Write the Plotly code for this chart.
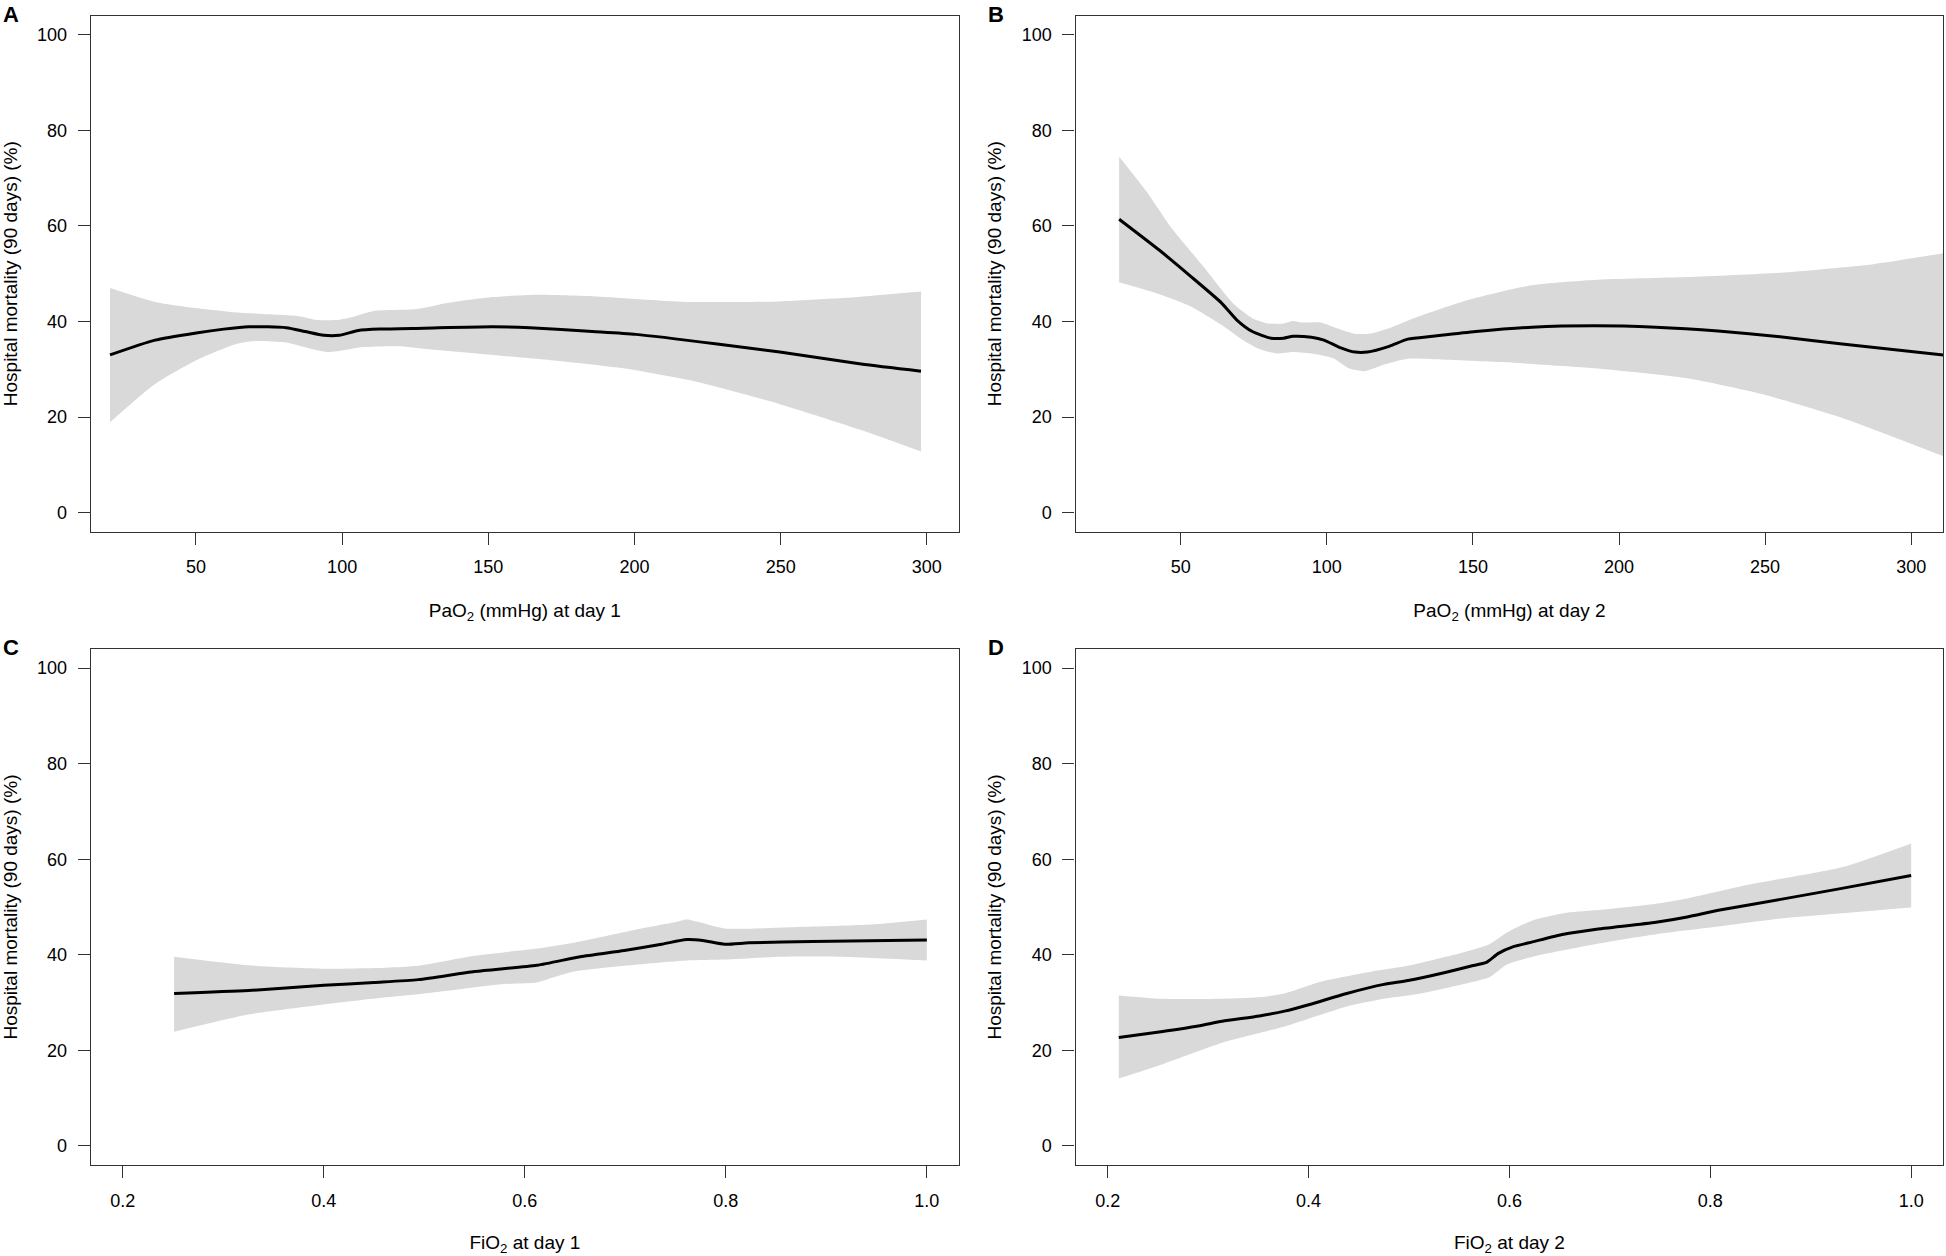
import plotly.graph_objects as go

# ---------------- Panel A: PaO2 day 1 ----------------
a_x = [20.6, 36.0, 50.1, 59.5, 68.1, 80.9, 87.3, 93.7, 99.0, 105.5, 112.9, 127.9, 151.4, 164.2, 185.6, 200.5, 228.3, 249.7, 277.5, 298.0]
a_y = [33.0, 36.1, 37.6, 38.4, 38.9, 38.7, 37.9, 37.1, 37.1, 38.1, 38.4, 38.6, 38.9, 38.7, 37.9, 37.3, 35.3, 33.6, 31.1, 29.6]
a_up_x = [20.6, 36.0, 50.1, 61.6, 78.7, 85.2, 91.6, 98.0, 103.3, 110.8, 125.7, 136.4, 151.4, 166.3, 185.6, 217.6, 249.7, 271.0, 298.0]
a_up_y = [47.0, 44.1, 42.8, 42.0, 41.4, 41.1, 40.3, 40.3, 40.9, 42.2, 42.6, 43.9, 45.1, 45.6, 45.3, 44.1, 44.2, 44.9, 46.3]
a_lo_x = [20.6, 36.0, 50.1, 63.8, 70.2, 80.9, 87.3, 94.8, 99.0, 106.5, 119.3, 127.9, 153.5, 174.9, 196.3, 221.9, 249.7, 277.5, 298.0]
a_lo_y = [18.9, 26.9, 31.9, 35.3, 35.9, 35.6, 34.6, 33.6, 33.8, 34.6, 34.8, 34.3, 32.9, 31.7, 30.2, 27.3, 22.7, 17.3, 12.8]

# ---------------- Panel B: PaO2 day 2 ----------------
b_x = [28.9, 42.7, 53.3, 63.9, 69.2, 74.5, 80.9, 85.2, 88.4, 94.7, 99.0, 104.3, 109.6, 113.9, 121.3, 127.7, 136.2, 151.0, 170.2, 191.4, 212.6, 233.9, 255.1, 276.4, 311.0]
b_y = [61.4, 54.9, 49.5, 43.9, 40.3, 37.9, 36.5, 36.5, 36.9, 36.7, 36.1, 34.6, 33.6, 33.6, 34.8, 36.3, 36.9, 37.9, 38.8, 39.1, 38.8, 38.0, 36.8, 35.3, 33.0]
b_up_x = [28.9, 38.4, 46.9, 57.6, 68.2, 74.5, 79.8, 85.2, 88.4, 91.5, 97.9, 104.3, 109.6, 115.0, 121.3, 129.8, 148.9, 170.2, 191.4, 223.3, 255.1, 287.0, 311.0]
b_up_y = [74.5, 67.1, 59.5, 51.6, 43.6, 40.7, 39.6, 39.6, 40.1, 39.8, 39.8, 38.4, 37.4, 37.5, 38.6, 40.7, 44.6, 47.6, 48.7, 49.3, 50.2, 52.0, 54.3]
b_lo_x = [28.9, 42.7, 53.3, 63.9, 70.3, 76.6, 83.0, 88.4, 95.8, 102.2, 107.5, 112.8, 119.2, 127.7, 136.2, 159.5, 191.4, 223.3, 248.8, 276.4, 311.0]
b_lo_y = [48.2, 45.7, 43.2, 39.3, 36.5, 34.3, 33.3, 33.6, 33.2, 32.3, 30.2, 29.6, 30.9, 32.2, 32.1, 31.5, 30.2, 28.1, 24.8, 19.8, 11.8]

# ---------------- Panel C: FiO2 day 1 ----------------
c_x = [0.251, 0.325, 0.400, 0.450, 0.494, 0.550, 0.612, 0.655, 0.699, 0.736, 0.761, 0.777, 0.799, 0.823, 0.886, 1.0]
c_y = [31.9, 32.5, 33.6, 34.2, 34.8, 36.5, 37.8, 39.6, 40.9, 42.2, 43.2, 43.0, 42.2, 42.5, 42.8, 43.1]
c_up_x = [0.251, 0.325, 0.400, 0.462, 0.494, 0.550, 0.612, 0.655, 0.711, 0.749, 0.761, 0.774, 0.799, 0.886, 0.948, 1.0]
c_up_y = [39.6, 37.8, 37.1, 37.3, 37.7, 39.8, 41.3, 42.8, 45.3, 46.8, 47.4, 46.8, 45.5, 45.9, 46.4, 47.4]
c_lo_x = [0.251, 0.325, 0.400, 0.462, 0.500, 0.574, 0.612, 0.624, 0.649, 0.699, 0.761, 0.799, 0.855, 0.917, 1.0]
c_lo_y = [23.9, 27.5, 29.6, 31.1, 31.9, 33.8, 34.2, 35.0, 36.5, 37.7, 38.8, 39.0, 39.6, 39.6, 38.8]

# ---------------- Panel D: FiO2 day 2 ----------------
d_x = [0.211, 0.253, 0.290, 0.314, 0.351, 0.376, 0.401, 0.438, 0.475, 0.499, 0.536, 0.561, 0.577, 0.589, 0.604, 0.623, 0.654, 0.685, 0.746, 0.777, 0.808, 0.870, 0.931, 1.0]
d_y = [22.7, 23.9, 25.1, 26.1, 27.2, 28.2, 29.6, 31.9, 33.8, 34.6, 36.3, 37.6, 38.4, 40.3, 41.7, 42.7, 44.3, 45.3, 46.8, 47.9, 49.3, 51.6, 53.9, 56.6]
d_up_x = [0.211, 0.253, 0.314, 0.351, 0.376, 0.413, 0.469, 0.499, 0.561, 0.580, 0.598, 0.623, 0.654, 0.685, 0.746, 0.777, 0.839, 0.931, 1.0]
d_up_y = [31.5, 30.8, 30.8, 31.1, 31.9, 34.4, 36.7, 37.7, 40.9, 42.2, 44.7, 47.2, 48.7, 49.3, 50.7, 51.8, 54.7, 58.3, 63.3]
d_lo_x = [0.211, 0.253, 0.314, 0.376, 0.438, 0.475, 0.512, 0.561, 0.580, 0.598, 0.623, 0.685, 0.746, 0.808, 0.870, 0.931, 1.0]
d_lo_y = [14.1, 17.0, 21.6, 25.0, 29.2, 30.8, 31.9, 34.2, 35.3, 38.0, 39.6, 42.2, 44.3, 45.9, 47.6, 48.7, 49.9]

pao2_ticks = [50, 100, 150, 200, 250, 300]
fio2_ticks = [0.2, 0.4, 0.6, 0.8, 1.0]
fio2_labels = ["0.2", "0.4", "0.6", "0.8", "1.0"]
y_ticks = [0, 20, 40, 60, 80, 100]

panel_letters = ["A", "B", "C", "D"]
x_titles = ["PaO<sub>2</sub> (mmHg) at day 1", "PaO<sub>2</sub> (mmHg) at day 2",
            "FiO<sub>2</sub> at day 1", "FiO<sub>2</sub> at day 2"]
y_title = "Hospital mortality (90 days) (%)"

W, H = 1946, 1256
FONT = "Liberation Sans, Arial, Helvetica, sans-serif"
BAND = "#D9D9D9"
AX = "#333333"

panels = [
    (a_x, a_y, a_up_x, a_up_y, a_lo_x, a_lo_y),
    (b_x, b_y, b_up_x, b_up_y, b_lo_x, b_lo_y),
    (c_x, c_y, c_up_x, c_up_y, c_lo_x, c_lo_y),
    (d_x, d_y, d_up_x, d_up_y, d_lo_x, d_lo_y),
]

# pixel boxes of the plotting regions (left, right, top, bottom)
boxes = [
    (90.7, 959.0, 15.7, 531.7),
    (1075.6, 1943.3, 15.7, 531.7),
    (90.7, 959.0, 649.0, 1165.0),
    (1075.6, 1943.3, 649.0, 1165.0),
]
x_ranges = [[14.0, 311.0], [14.0, 311.0], [0.168, 1.032], [0.168, 1.032]]

fig = go.Figure()
annotations = []
layout = {}
for i, (px, py, ux, uy, lx, ly) in enumerate(panels):
    n = "" if i == 0 else str(i + 1)
    xa, ya = "x" + n, "y" + n
    # confidence band: lower edge then upper edge filled to it
    fig.add_trace(go.Scatter(
        x=lx, y=ly, mode="lines", line=dict(width=0, color=BAND, shape="spline", smoothing=0.6),
        hoverinfo="skip", showlegend=False, xaxis=xa, yaxis=ya))
    fig.add_trace(go.Scatter(
        x=ux, y=uy, mode="lines", fill="tonexty", fillcolor=BAND,
        line=dict(width=0, color=BAND, shape="spline", smoothing=0.6),
        hoverinfo="skip", showlegend=False, xaxis=xa, yaxis=ya))
    fig.add_trace(go.Scatter(
        x=px, y=py, mode="lines", line=dict(color="black", width=3, shape="spline", smoothing=0.6),
        showlegend=False, xaxis=xa, yaxis=ya))
    l, r, t, b = boxes[i]
    common = dict(showline=True, linecolor=AX, linewidth=1.3, mirror=True, ticks="outside",
                  ticklen=12, tickwidth=1.3, tickcolor=AX, showgrid=False, zeroline=False,
                  automargin=False, tickfont=dict(family=FONT, size=18, color="black"))
    if i < 2:
        xt = dict(tickvals=pao2_ticks)
    else:
        xt = dict(tickvals=fio2_ticks, ticktext=fio2_labels)
    layout["xaxis" + n] = dict(domain=[l / W, r / W], range=x_ranges[i], anchor=ya,
                               ticklabelstandoff=7,
                               title=dict(text=x_titles[i], standoff=27,
                                          font=dict(family=FONT, size=19, color="black")),
                               **xt, **common)
    layout["yaxis" + n] = dict(domain=[1 - b / H, 1 - t / H], range=[-4, 104], anchor=xa,
                               tickvals=y_ticks, ticklabelstandoff=7,
                               title=dict(text=y_title, standoff=15,
                                          font=dict(family=FONT, size=19, color="black")),
                               **common)
    # panel letter
    annotations.append(dict(text=panel_letters[i], xref="paper", yref="paper",
                            x=(l - 80) / W, y=1 - (t - 1.5) / H, xanchor="center", yanchor="middle",
                            showarrow=False,
                            font=dict(family=FONT, size=22, color="black", weight="bold")))

fig.update_layout(width=W, height=H, autosize=False, margin=dict(l=0, r=0, t=0, b=0),
                  paper_bgcolor="white", plot_bgcolor="white", annotations=annotations,
                  font=dict(family=FONT, color="black"), **layout)

fig.write_html("out.html", config={"displayModeBar": False},
               post_script="document.body.style.margin='0';document.body.style.overflow='hidden';")
